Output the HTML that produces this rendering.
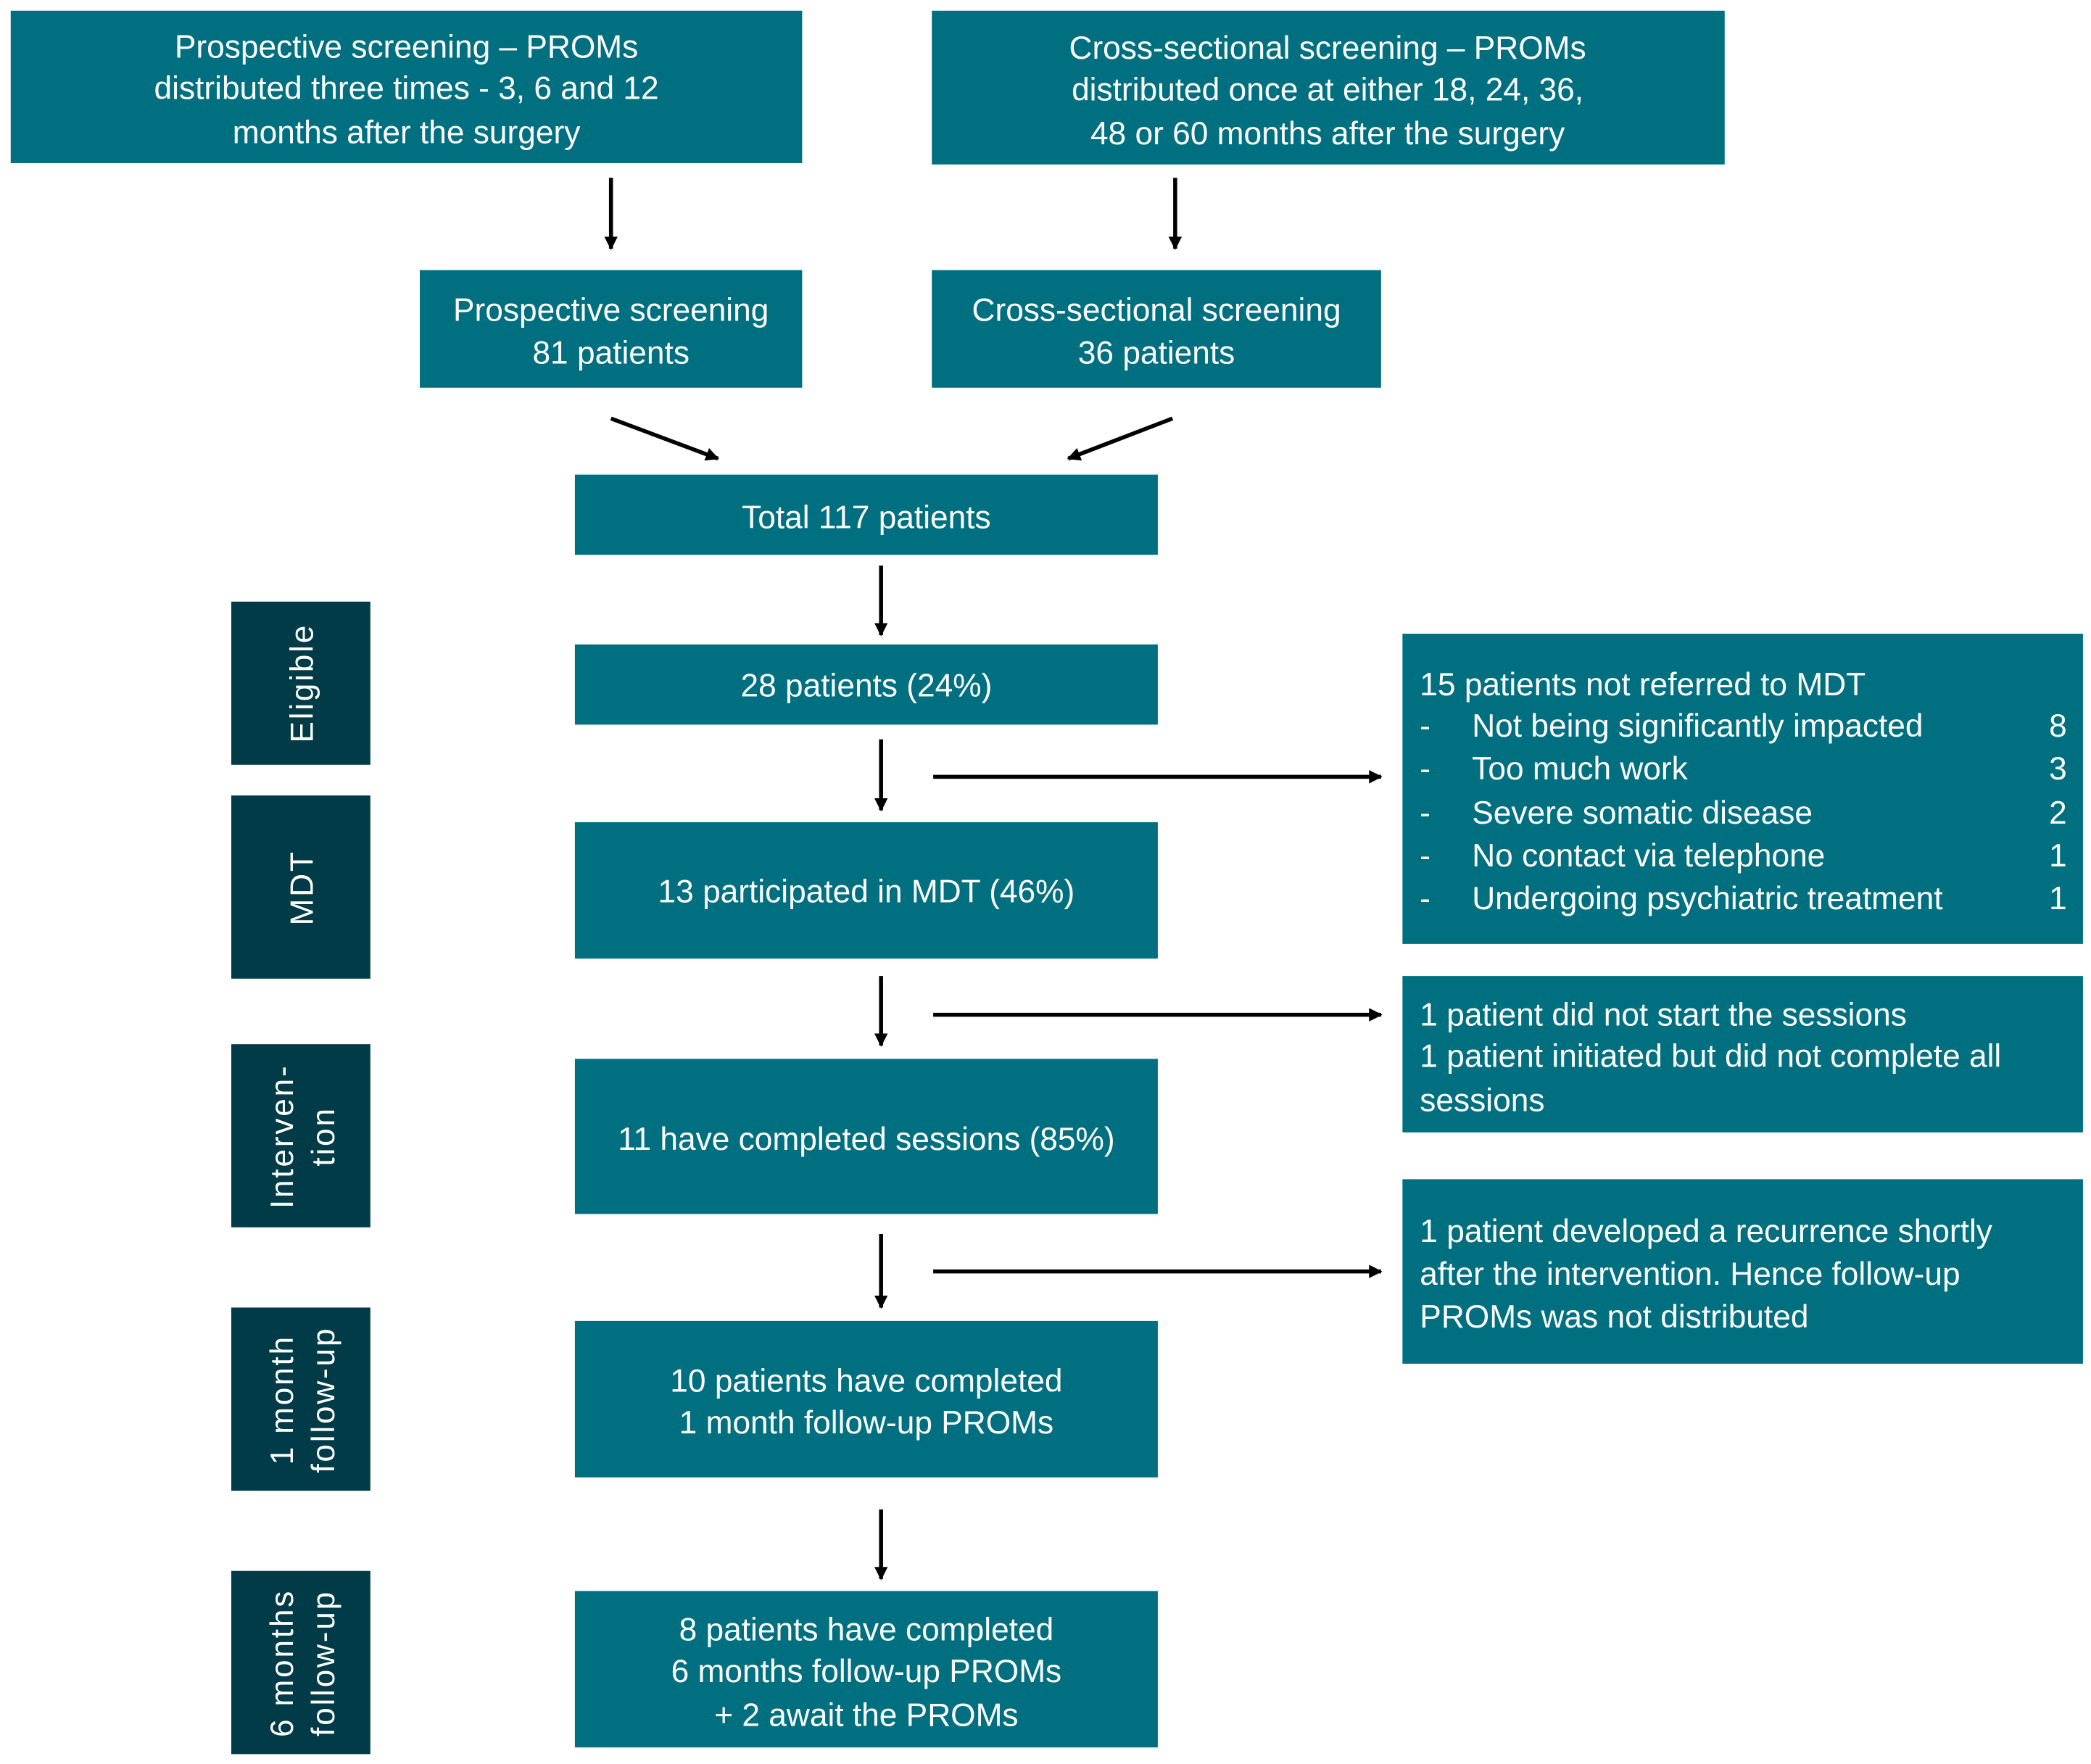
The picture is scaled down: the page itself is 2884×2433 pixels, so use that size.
<!DOCTYPE html>
<html><head><meta charset="utf-8"><style>
html,body{margin:0;padding:0;background:#fff;}
svg{display:block;}
text{font-family:"Liberation Sans",Arial,sans-serif;fill:#fff;font-size:24px;}
.c{text-anchor:middle;}
.e{text-anchor:end;}
.v{letter-spacing:1.5px;}
</style></head><body>
<svg width="2884" height="2433" viewBox="0 0 1564 1319.4" preserveAspectRatio="none" xmlns="http://www.w3.org/2000/svg">
<defs>
<marker id="a" markerWidth="10" markerHeight="10" refX="9" refY="5" orient="auto" markerUnits="userSpaceOnUse">
<path d="M0,0 L10,5 L0,10 z" fill="#000" style="fill:#000"/>
</marker>
</defs>
<g fill="#007080">
<rect x="8" y="8" width="592" height="114"/>
<rect x="697" y="8" width="593" height="115"/>
<rect x="314" y="202" width="286" height="88"/>
<rect x="697" y="202" width="336" height="88"/>
<rect x="430" y="355" width="436" height="60"/>
<rect x="430" y="482" width="436" height="60"/>
<rect x="430" y="615" width="436" height="102"/>
<rect x="430" y="792" width="436" height="116"/>
<rect x="430" y="988" width="436" height="117"/>
<rect x="430" y="1190" width="436" height="117"/>
<rect x="1049" y="474" width="509" height="232"/>
<rect x="1049" y="730" width="509" height="117"/>
<rect x="1049" y="882" width="509" height="138"/>
</g>
<g fill="#003B47">
<rect x="173" y="450" width="104" height="122"/>
<rect x="173" y="595" width="104" height="137"/>
<rect x="173" y="781" width="104" height="137"/>
<rect x="173" y="978" width="104" height="137"/>
<rect x="173" y="1175" width="104" height="137"/>
</g>
<g stroke="#000" stroke-width="3" marker-end="url(#a)">
<line x1="457" y1="133" x2="457" y2="186"/>
<line x1="879" y1="133" x2="879" y2="186"/>
<line x1="457" y1="313" x2="537" y2="343"/>
<line x1="877" y1="313" x2="799" y2="343"/>
<line x1="659" y1="423" x2="659" y2="475"/>
<line x1="659" y1="553" x2="659" y2="606"/>
<line x1="659" y1="730" x2="659" y2="782"/>
<line x1="659" y1="923" x2="659" y2="978"/>
<line x1="659" y1="1129" x2="659" y2="1181"/>
<line x1="698" y1="581" x2="1033" y2="581"/>
<line x1="698" y1="759" x2="1033" y2="759"/>
<line x1="698" y1="951" x2="1033" y2="951"/>
</g>
<text class="c" x="304" y="43">Prospective screening – PROMs</text>
<text class="c" x="304" y="74">distributed three times - 3, 6 and 12</text>
<text class="c" x="304" y="107">months after the surgery</text>
<text class="c" x="993" y="44">Cross-sectional screening – PROMs</text>
<text class="c" x="993" y="75">distributed once at either 18, 24, 36,</text>
<text class="c" x="993" y="108">48 or 60 months after the surgery</text>
<text class="c" x="457" y="240">Prospective screening</text>
<text class="c" x="457" y="272">81 patients</text>
<text class="c" x="865" y="240">Cross-sectional screening</text>
<text class="c" x="865" y="272">36 patients</text>
<text class="c" x="648" y="395">Total 117 patients</text>
<text class="c" x="648" y="521">28 patients (24%)</text>
<text class="c" x="648" y="675">13 participated in MDT (46%)</text>
<text class="c" x="648" y="860">11 have completed sessions (85%)</text>
<text class="c" x="648" y="1041">10 patients have completed</text>
<text class="c" x="648" y="1072">1 month follow-up PROMs</text>
<text class="c" x="648" y="1227">8 patients have completed</text>
<text class="c" x="648" y="1258">6 months follow-up PROMs</text>
<text class="c" x="648" y="1291">+  2 await the PROMs</text>
<text x="1062" y="520">15 patients not referred to MDT</text>
<text x="1062" y="551">-</text><text x="1101" y="551">Not being significantly impacted</text><text class="e" x="1546" y="551">8</text>
<text x="1062" y="583">-</text><text x="1101" y="583">Too much work</text><text class="e" x="1546" y="583">3</text>
<text x="1062" y="616">-</text><text x="1101" y="616">Severe somatic disease</text><text class="e" x="1546" y="616">2</text>
<text x="1062" y="648">-</text><text x="1101" y="648">No contact via telephone</text><text class="e" x="1546" y="648">1</text>
<text x="1062" y="680">-</text><text x="1101" y="680">Undergoing psychiatric treatment</text><text class="e" x="1546" y="680">1</text>
<text x="1062" y="767">1 patient did not start the sessions</text>
<text x="1062" y="798">1 patient initiated but did not complete all</text>
<text x="1062" y="831">sessions</text>
<text x="1062" y="929">1 patient developed a recurrence shortly</text>
<text x="1062" y="961">after the intervention. Hence follow-up</text>
<text x="1062" y="993">PROMs was not distributed</text>
<g class="v">
<text class="c v" transform="translate(234,511) rotate(-90)">Eligible</text>
<text class="c v" transform="translate(234,664) rotate(-90)">MDT</text>
<text class="c v" transform="translate(219,850) rotate(-90)">Interven-</text>
<text class="c v" transform="translate(250,850) rotate(-90)">tion</text>
<text class="c v" transform="translate(219,1047) rotate(-90)">1 month</text>
<text class="c v" transform="translate(250,1047) rotate(-90)">follow-up</text>
<text class="c v" transform="translate(219,1244) rotate(-90)">6 months</text>
<text class="c v" transform="translate(250,1244) rotate(-90)">follow-up</text>
</g>
</svg>
</body></html>
